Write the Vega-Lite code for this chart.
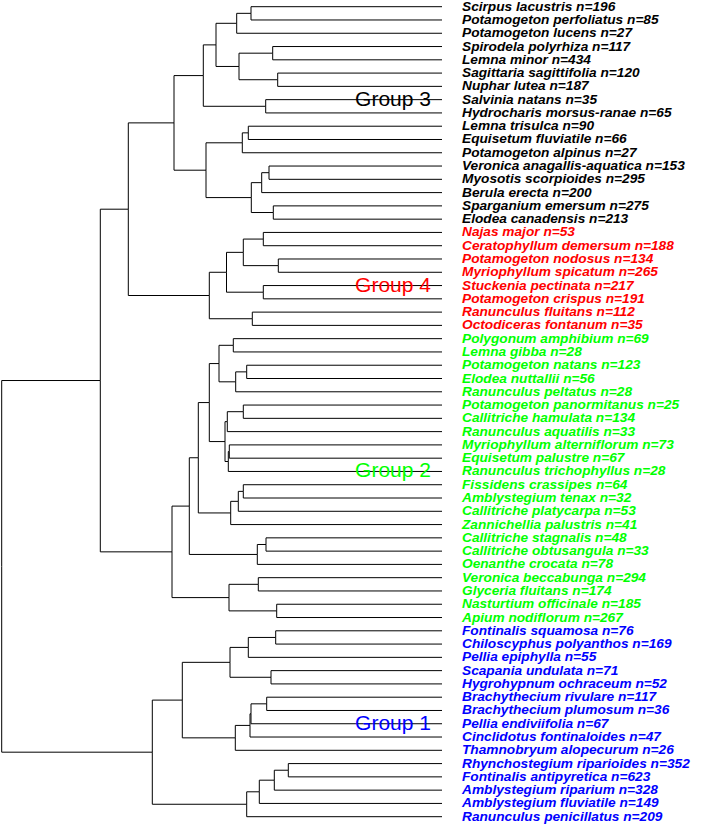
{
  "$schema": "https://vega.github.io/schema/vega-lite/v6.json",
  "width": 708,
  "height": 825,
  "autosize": "none",
  "padding": 0,
  "background": "white",
  "config": {"view": {"stroke": null}},
  "datasets": {
    "edges": [
      {"y": 1, "h": 0, "ph": 191, "py": 1.5},
      {"y": 2, "h": 0, "ph": 191, "py": 1.5},
      {"y": 3, "h": 0, "ph": 205.3, "py": 2.25},
      {"y": 4, "h": 0, "ph": 169.3, "py": 4.5},
      {"y": 5, "h": 0, "ph": 169.3, "py": 4.5},
      {"y": 6, "h": 0, "ph": 164.3, "py": 6.5},
      {"y": 7, "h": 0, "ph": 164.3, "py": 6.5},
      {"y": 8, "h": 0, "ph": 176.3, "py": 8.5},
      {"y": 9, "h": 0, "ph": 176.3, "py": 8.5},
      {"y": 10, "h": 0, "ph": 193.7, "py": 10.5},
      {"y": 11, "h": 0, "ph": 193.7, "py": 10.5},
      {"y": 12, "h": 0, "ph": 199.7, "py": 11.25},
      {"y": 13, "h": 0, "ph": 173, "py": 13.5},
      {"y": 14, "h": 0, "ph": 173, "py": 13.5},
      {"y": 15, "h": 0, "ph": 180.3, "py": 14.25},
      {"y": 16, "h": 0, "ph": 168.7, "py": 16.5},
      {"y": 17, "h": 0, "ph": 168.7, "py": 16.5},
      {"y": 18, "h": 0, "ph": 178.7, "py": 18.5},
      {"y": 19, "h": 0, "ph": 178.7, "py": 18.5},
      {"y": 20, "h": 0, "ph": 163.7, "py": 20.5},
      {"y": 21, "h": 0, "ph": 163.7, "py": 20.5},
      {"y": 22, "h": 0, "ph": 178.7, "py": 22.5},
      {"y": 23, "h": 0, "ph": 178.7, "py": 22.5},
      {"y": 24, "h": 0, "ph": 189.7, "py": 24.5},
      {"y": 25, "h": 0, "ph": 189.7, "py": 24.5},
      {"y": 26, "h": 0, "ph": 208.7, "py": 26.5},
      {"y": 27, "h": 0, "ph": 208.7, "py": 26.5},
      {"y": 28, "h": 0, "ph": 195.3, "py": 28.5},
      {"y": 29, "h": 0, "ph": 195.3, "py": 28.5},
      {"y": 30, "h": 0, "ph": 206.3, "py": 29.25},
      {"y": 31, "h": 0, "ph": 198.7, "py": 31.5},
      {"y": 32, "h": 0, "ph": 198.7, "py": 31.5},
      {"y": 33, "h": 0, "ph": 214.7, "py": 32.25},
      {"y": 34, "h": 0, "ph": 212.7, "py": 34.5},
      {"y": 35, "h": 0, "ph": 212.7, "py": 34.5},
      {"y": 36, "h": 0, "ph": 213.7, "py": 35.25},
      {"y": 37, "h": 0, "ph": 198.7, "py": 37.5},
      {"y": 38, "h": 0, "ph": 198.7, "py": 37.5},
      {"y": 39, "h": 0, "ph": 203.7, "py": 38.25},
      {"y": 40, "h": 0, "ph": 211.3, "py": 39.125},
      {"y": 41, "h": 0, "ph": 176, "py": 41.5},
      {"y": 42, "h": 0, "ph": 176, "py": 41.5},
      {"y": 43, "h": 0, "ph": 184.7, "py": 42.25},
      {"y": 44, "h": 0, "ph": 183.7, "py": 44.5},
      {"y": 45, "h": 0, "ph": 183.7, "py": 44.5},
      {"y": 46, "h": 0, "ph": 165.3, "py": 46.5},
      {"y": 47, "h": 0, "ph": 165.3, "py": 46.5},
      {"y": 48, "h": 0, "ph": 166.3, "py": 48.5},
      {"y": 49, "h": 0, "ph": 166.3, "py": 48.5},
      {"y": 50, "h": 0, "ph": 193.7, "py": 49.25},
      {"y": 51, "h": 0, "ph": 171, "py": 51.5},
      {"y": 52, "h": 0, "ph": 171, "py": 51.5},
      {"y": 53, "h": 0, "ph": 175.3, "py": 53.5},
      {"y": 54, "h": 0, "ph": 175.3, "py": 53.5},
      {"y": 55, "h": 0, "ph": 191, "py": 54.25},
      {"y": 56, "h": 0, "ph": 192, "py": 55.125},
      {"y": 57, "h": 0, "ph": 206.7, "py": 56.0625},
      {"y": 58, "h": 0, "ph": 153.7, "py": 58.5},
      {"y": 59, "h": 0, "ph": 153.7, "py": 58.5},
      {"y": 60, "h": 0, "ph": 167.7, "py": 59.25},
      {"y": 61, "h": 0, "ph": 182.7, "py": 60.125},
      {"y": 62, "h": 0, "ph": 195.3, "py": 61.0625},
      {"y": 1.5, "h": 191, "ph": 205.3, "py": 2.25},
      {"y": 2.25, "h": 205.3, "ph": 226, "py": 3.875},
      {"y": 4.5, "h": 169.3, "ph": 203, "py": 5.5},
      {"y": 6.5, "h": 164.3, "ph": 203, "py": 5.5},
      {"y": 5.5, "h": 203, "ph": 226, "py": 3.875},
      {"y": 3.875, "h": 226, "ph": 238.7, "py": 6.1875},
      {"y": 8.5, "h": 176.3, "ph": 238.7, "py": 6.1875},
      {"y": 6.1875, "h": 238.7, "ph": 268, "py": 9.75},
      {"y": 10.5, "h": 193.7, "ph": 199.7, "py": 11.25},
      {"y": 11.25, "h": 199.7, "ph": 236, "py": 13.3125},
      {"y": 13.5, "h": 173, "ph": 180.3, "py": 14.25},
      {"y": 14.25, "h": 180.3, "ph": 190.7, "py": 15.375},
      {"y": 16.5, "h": 168.7, "ph": 190.7, "py": 15.375},
      {"y": 15.375, "h": 190.7, "ph": 236, "py": 13.3125},
      {"y": 13.3125, "h": 236, "ph": 268, "py": 9.75},
      {"y": 9.75, "h": 268, "ph": 313.7, "py": 16.25},
      {"y": 18.5, "h": 178.7, "ph": 198.7, "py": 19.5},
      {"y": 20.5, "h": 163.7, "ph": 198.7, "py": 19.5},
      {"y": 19.5, "h": 198.7, "ph": 215.5, "py": 21},
      {"y": 22.5, "h": 178.7, "ph": 215.5, "py": 21},
      {"y": 21, "h": 215.5, "ph": 232.7, "py": 22.75},
      {"y": 24.5, "h": 189.7, "ph": 232.7, "py": 22.75},
      {"y": 22.75, "h": 232.7, "ph": 313.7, "py": 16.25},
      {"y": 16.25, "h": 313.7, "ph": 341.7, "py": 29.152},
      {"y": 26.5, "h": 208.7, "ph": 223, "py": 27.875},
      {"y": 28.5, "h": 195.3, "ph": 206.3, "py": 29.25},
      {"y": 29.25, "h": 206.3, "ph": 223, "py": 27.875},
      {"y": 27.875, "h": 223, "ph": 232.7, "py": 30.8125},
      {"y": 31.5, "h": 198.7, "ph": 214.7, "py": 32.25},
      {"y": 32.25, "h": 214.7, "ph": 217, "py": 33.75},
      {"y": 34.5, "h": 212.7, "ph": 213.7, "py": 35.25},
      {"y": 35.25, "h": 213.7, "ph": 217, "py": 33.75},
      {"y": 33.75, "h": 217, "ph": 232.7, "py": 30.8125},
      {"y": 30.8125, "h": 232.7, "ph": 243.7, "py": 34.96875},
      {"y": 37.5, "h": 198.7, "ph": 203.7, "py": 38.25},
      {"y": 38.25, "h": 203.7, "ph": 211.3, "py": 39.125},
      {"y": 39.125, "h": 211.3, "ph": 243.7, "py": 34.96875},
      {"y": 34.96875, "h": 243.7, "ph": 252.7, "py": 38.609},
      {"y": 41.5, "h": 176, "ph": 184.7, "py": 42.25},
      {"y": 42.25, "h": 184.7, "ph": 252.7, "py": 38.609},
      {"y": 38.609, "h": 252.7, "ph": 270, "py": 42.055},
      {"y": 44.5, "h": 183.7, "ph": 213, "py": 45.5},
      {"y": 46.5, "h": 165.3, "ph": 213, "py": 45.5},
      {"y": 45.5, "h": 213, "ph": 270, "py": 42.055},
      {"y": 42.055, "h": 270, "ph": 341.7, "py": 29.152},
      {"y": 29.152, "h": 341.7, "ph": 440.3, "py": 43.146},
      {"y": 48.5, "h": 166.3, "ph": 193.7, "py": 49.25},
      {"y": 49.25, "h": 193.7, "ph": 212, "py": 50.375},
      {"y": 51.5, "h": 171, "ph": 212, "py": 50.375},
      {"y": 50.375, "h": 212, "ph": 259.7, "py": 53.219},
      {"y": 53.5, "h": 175.3, "ph": 191, "py": 54.25},
      {"y": 54.25, "h": 191, "ph": 192, "py": 55.125},
      {"y": 55.125, "h": 192, "ph": 206.7, "py": 56.0625},
      {"y": 56.0625, "h": 206.7, "ph": 259.7, "py": 53.219},
      {"y": 53.219, "h": 259.7, "ph": 289.7, "py": 57.141},
      {"y": 58.5, "h": 153.7, "ph": 167.7, "py": 59.25},
      {"y": 59.25, "h": 167.7, "ph": 182.7, "py": 60.125},
      {"y": 60.125, "h": 182.7, "ph": 195.3, "py": 61.0625},
      {"y": 61.0625, "h": 195.3, "ph": 289.7, "py": 57.141},
      {"y": 57.141, "h": 289.7, "ph": 440.3, "py": 43.146}
    ],
    "leaves": [
      {"y": 1, "grp": "3", "label": "Scirpus lacustris n=196"},
      {"y": 2, "grp": "3", "label": "Potamogeton perfoliatus n=85"},
      {"y": 3, "grp": "3", "label": "Potamogeton lucens n=27"},
      {"y": 4, "grp": "3", "label": "Spirodela polyrhiza n=117"},
      {"y": 5, "grp": "3", "label": "Lemna minor n=434"},
      {"y": 6, "grp": "3", "label": "Sagittaria sagittifolia n=120"},
      {"y": 7, "grp": "3", "label": "Nuphar lutea n=187"},
      {"y": 8, "grp": "3", "label": "Salvinia natans n=35"},
      {"y": 9, "grp": "3", "label": "Hydrocharis morsus-ranae n=65"},
      {"y": 10, "grp": "3", "label": "Lemna trisulca n=90"},
      {"y": 11, "grp": "3", "label": "Equisetum fluviatile n=66"},
      {"y": 12, "grp": "3", "label": "Potamogeton alpinus n=27"},
      {"y": 13, "grp": "3", "label": "Veronica anagallis-aquatica n=153"},
      {"y": 14, "grp": "3", "label": "Myosotis scorpioides n=295"},
      {"y": 15, "grp": "3", "label": "Berula erecta n=200"},
      {"y": 16, "grp": "3", "label": "Sparganium emersum n=275"},
      {"y": 17, "grp": "3", "label": "Elodea canadensis n=213"},
      {"y": 18, "grp": "4", "label": "Najas major n=53"},
      {"y": 19, "grp": "4", "label": "Ceratophyllum demersum n=188"},
      {"y": 20, "grp": "4", "label": "Potamogeton nodosus n=134"},
      {"y": 21, "grp": "4", "label": "Myriophyllum spicatum n=265"},
      {"y": 22, "grp": "4", "label": "Stuckenia pectinata n=217"},
      {"y": 23, "grp": "4", "label": "Potamogeton crispus n=191"},
      {"y": 24, "grp": "4", "label": "Ranunculus fluitans n=112"},
      {"y": 25, "grp": "4", "label": "Octodiceras fontanum n=35"},
      {"y": 26, "grp": "2", "label": "Polygonum amphibium n=69"},
      {"y": 27, "grp": "2", "label": "Lemna gibba n=28"},
      {"y": 28, "grp": "2", "label": "Potamogeton natans n=123"},
      {"y": 29, "grp": "2", "label": "Elodea nuttallii n=56"},
      {"y": 30, "grp": "2", "label": "Ranunculus peltatus n=28"},
      {"y": 31, "grp": "2", "label": "Potamogeton panormitanus n=25"},
      {"y": 32, "grp": "2", "label": "Callitriche hamulata n=134"},
      {"y": 33, "grp": "2", "label": "Ranunculus aquatilis n=33"},
      {"y": 34, "grp": "2", "label": "Myriophyllum alterniflorum n=73"},
      {"y": 35, "grp": "2", "label": "Equisetum palustre n=67"},
      {"y": 36, "grp": "2", "label": "Ranunculus trichophyllus n=28"},
      {"y": 37, "grp": "2", "label": "Fissidens crassipes n=64"},
      {"y": 38, "grp": "2", "label": "Amblystegium tenax n=32"},
      {"y": 39, "grp": "2", "label": "Callitriche platycarpa n=53"},
      {"y": 40, "grp": "2", "label": "Zannichellia palustris n=41"},
      {"y": 41, "grp": "2", "label": "Callitriche stagnalis n=48"},
      {"y": 42, "grp": "2", "label": "Callitriche obtusangula n=33"},
      {"y": 43, "grp": "2", "label": "Oenanthe crocata n=78"},
      {"y": 44, "grp": "2", "label": "Veronica beccabunga n=294"},
      {"y": 45, "grp": "2", "label": "Glyceria fluitans n=174"},
      {"y": 46, "grp": "2", "label": "Nasturtium officinale n=185"},
      {"y": 47, "grp": "2", "label": "Apium nodiflorum n=267"},
      {"y": 48, "grp": "1", "label": "Fontinalis squamosa n=76"},
      {"y": 49, "grp": "1", "label": "Chiloscyphus polyanthos n=169"},
      {"y": 50, "grp": "1", "label": "Pellia epiphylla n=55"},
      {"y": 51, "grp": "1", "label": "Scapania undulata n=71"},
      {"y": 52, "grp": "1", "label": "Hygrohypnum ochraceum n=52"},
      {"y": 53, "grp": "1", "label": "Brachythecium rivulare n=117"},
      {"y": 54, "grp": "1", "label": "Brachythecium plumosum n=36"},
      {"y": 55, "grp": "1", "label": "Pellia endiviifolia n=67"},
      {"y": 56, "grp": "1", "label": "Cinclidotus fontinaloides n=47"},
      {"y": 57, "grp": "1", "label": "Thamnobryum alopecurum n=26"},
      {"y": 58, "grp": "1", "label": "Rhynchostegium riparioides n=352"},
      {"y": 59, "grp": "1", "label": "Fontinalis antipyretica n=623"},
      {"y": 60, "grp": "1", "label": "Amblystegium riparium n=328"},
      {"y": 61, "grp": "1", "label": "Amblystegium fluviatile n=149"},
      {"y": 62, "grp": "1", "label": "Ranunculus penicillatus n=209"}
    ],
    "groups": [
      {"y": 8, "grp": "3", "label": "Group 3"},
      {"y": 22, "grp": "4", "label": "Group 4"},
      {"y": 36, "grp": "2", "label": "Group 2"},
      {"y": 55, "grp": "1", "label": "Group 1"}
    ]
  },
  "layer": [
    {
      "data": {"name": "edges"},
      "mark": {"type": "rule", "color": "#000000", "strokeWidth": 1},
      "encoding": {
        "x": {"field": "h", "type": "quantitative", "axis": null, "scale": {"domain": [-266, 442], "reverse": true, "nice": false, "zero": false}},
        "x2": {"field": "ph"},
        "y": {"field": "y", "type": "quantitative", "axis": null, "scale": {"domain": [0.4955, 62.625], "reverse": true, "nice": false, "zero": false}}
      }
    },
    {
      "data": {"name": "edges"},
      "mark": {"type": "rule", "color": "#000000", "strokeWidth": 1},
      "encoding": {
        "x": {"field": "ph", "type": "quantitative"},
        "y": {"field": "y", "type": "quantitative"},
        "y2": {"field": "py"}
      }
    },
    {
      "data": {"name": "leaves"},
      "mark": {"type": "text", "align": "left", "baseline": "middle", "dx": 20, "font": "Liberation Sans", "fontStyle": "italic", "fontWeight": "bold", "fontSize": 13.7},
      "encoding": {
        "x": {"datum": 0, "type": "quantitative"},
        "y": {"field": "y", "type": "quantitative"},
        "text": {"field": "label"},
        "color": {"field": "grp", "type": "nominal", "legend": null, "scale": {"domain": ["1", "2", "3", "4"], "range": ["#0000FF", "#00FF00", "#000000", "#FF0000"]}}
      }
    },
    {
      "data": {"name": "groups"},
      "mark": {"type": "text", "align": "right", "baseline": "middle", "dx": -11, "font": "Liberation Sans", "fontSize": 21},
      "encoding": {
        "x": {"datum": 0, "type": "quantitative"},
        "y": {"field": "y", "type": "quantitative"},
        "text": {"field": "label"},
        "color": {"field": "grp", "type": "nominal", "legend": null}
      }
    }
  ]
}
